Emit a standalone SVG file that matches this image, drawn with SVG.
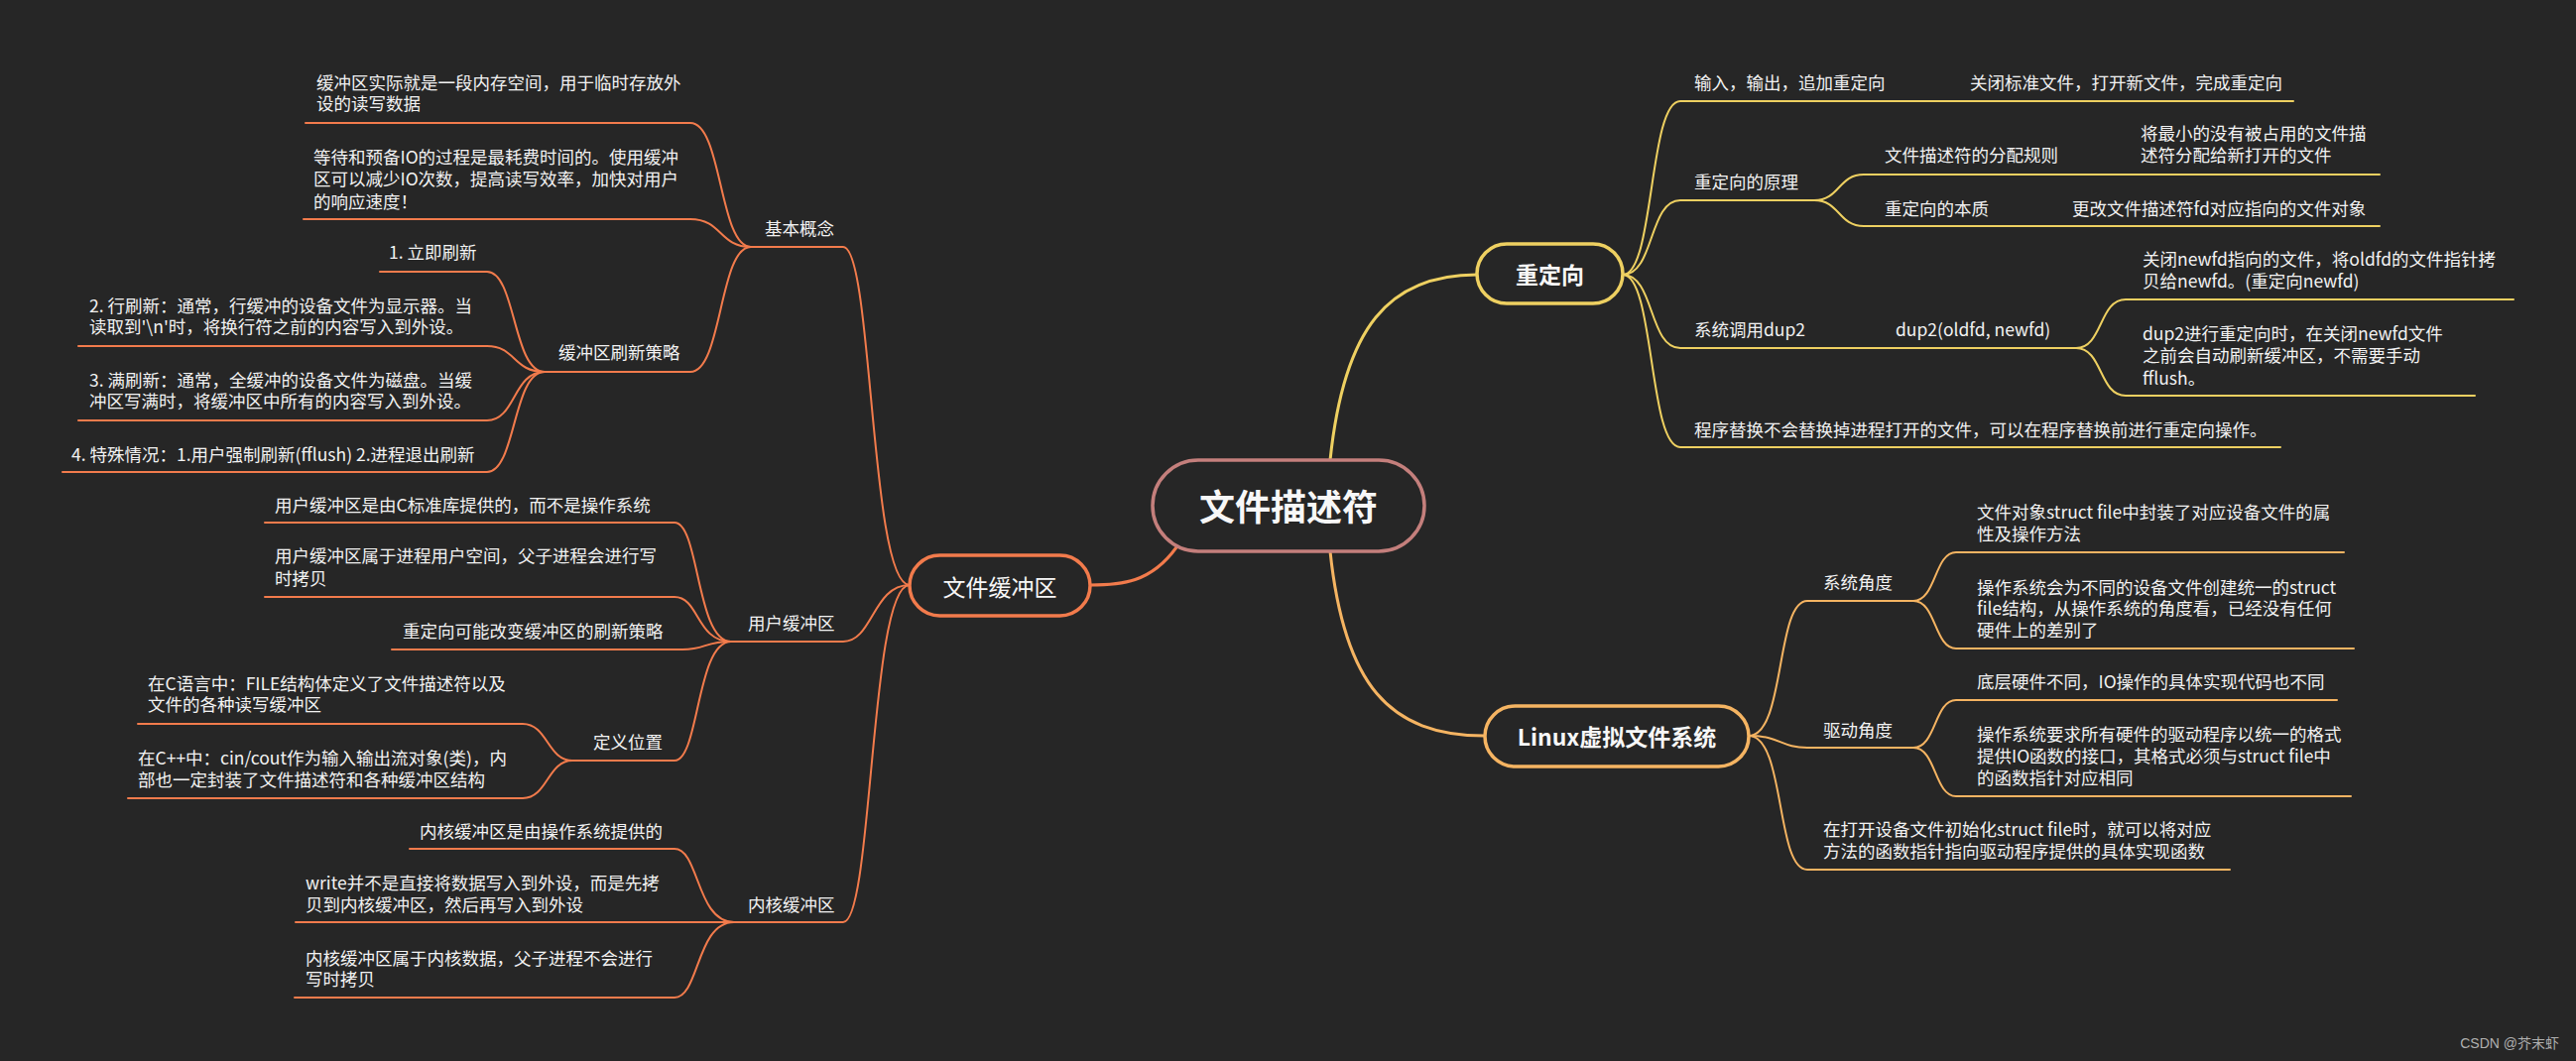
<svg xmlns="http://www.w3.org/2000/svg" width="2597" height="1070" viewBox="0 0 2597 1070">
<style>
.t{font-family:"Noto Sans CJK SC","Noto Sans",sans-serif;font-size:17.5px;fill:#f2f2f2;dominant-baseline:central}
.m{font-family:"Noto Sans CJK SC","Noto Sans",sans-serif;font-size:23px;fill:#f7f7f7;dominant-baseline:central;text-anchor:middle}
.l{fill:none;stroke-width:2;stroke-linecap:round}
.o{stroke:#f27b4c}.y{stroke:#eed061}.a{stroke:#f5b462}
.w3{stroke-width:3}
.nb{fill:#262626;stroke-width:3.5}
</style>
<rect width="2597" height="1070" fill="#262626"/>
<g id="connectors">
<path class="l o w3" d="M1186,552 C1160,588 1130,590 1099,590"/>
<path class="l y w3" d="M1341,464 C1355,330 1400,277 1489,277"/>
<path class="l a w3" d="M1341,556 C1355,690 1400,742 1497,742"/>
<path class="l o" d="M917,590 C877,590 880,249 850,249 H757"/>
<path class="l o" d="M917,590 C880,590 880,647 850,647 H737"/>
<path class="l o" d="M917,590 C877,590 880,930 850,930 H740"/>
<path class="l o" d="M757,249 C725,249 728,124 696,124 H308"/>
<path class="l o" d="M757,249 C725,249 728,221 696,221 H306"/>
<path class="l o" d="M757,249 C725,249 728,375 696,375 H549"/>
<path class="l o" d="M549,375 C517,375 520,274 491,274 H383"/>
<path class="l o" d="M549,375 C517,375 520,349 491,349 H79"/>
<path class="l o" d="M549,375 C517,375 520,424 491,424 H79"/>
<path class="l o" d="M549,375 C517,375 520,476 491,476 H63"/>
<path class="l o" d="M737,647 C702,647 705,527 680,527 H267"/>
<path class="l o" d="M737,647 C702,647 705,602 680,602 H267"/>
<path class="l o" d="M737,647 C710,647 712,655 688,655 H395"/>
<path class="l o" d="M737,647 C702,647 705,767 680,767 H577"/>
<path class="l o" d="M577,767 C552,767 552,730 527,730 H139"/>
<path class="l o" d="M577,767 C552,767 552,805 527,805 H129"/>
<path class="l o" d="M740,930 C702,930 705,856 680,856 H413"/>
<path class="l o" d="M740,930 H298"/>
<path class="l o" d="M740,930 C702,930 705,1006 680,1006 H297"/>
<path class="l y" d="M1636,277 C1668,277 1662,102 1694,102 H2312"/>
<path class="l y" d="M1636,277 C1668,277 1662,202 1694,202 H1829"/>
<path class="l y" d="M1829,202 C1855,202 1853,176 1879,176 H2399"/>
<path class="l y" d="M1829,202 C1855,202 1853,228 1879,228 H2399"/>
<path class="l y" d="M1636,277 C1668,277 1662,351 1694,351 H2093"/>
<path class="l y" d="M2093,351 C2120,351 2116,302 2143,302 H2534"/>
<path class="l y" d="M2093,351 C2120,351 2116,399 2143,399 H2495"/>
<path class="l y" d="M1636,277 C1668,277 1662,451 1694,451 H2299"/>
<path class="l a" d="M1763,742 C1800,742 1790,606 1822,606 H1929"/>
<path class="l a" d="M1929,606 C1952,606 1950,557 1972,557 H2363"/>
<path class="l a" d="M1929,606 C1952,606 1950,654 1972,654 H2373"/>
<path class="l a" d="M1763,742 C1795,742 1795,754 1822,754 H1929"/>
<path class="l a" d="M1929,754 C1952,754 1950,706 1972,706 H2356"/>
<path class="l a" d="M1929,754 C1952,754 1950,803 1972,803 H2370"/>
<path class="l a" d="M1763,742 C1800,742 1790,877 1822,877 H2248"/>
</g>
<g id="root"><rect class="nb" x="1162" y="464" width="274" height="92" rx="46" stroke="#c47f7c"/><text class="m" x="1299" y="509" style="font-size:36px;font-weight:bold">文件描述符</text></g>
<g id="n-buffer"><rect class="nb" x="917" y="560" width="182" height="61" rx="30.5" stroke="#f27b4c"/><text class="m" x="1008" y="590.5">文件缓冲区</text></g>
<g id="n-redirect"><rect class="nb" x="1489" y="246" width="147" height="60" rx="30" stroke="#eed061"/><text class="m" x="1562.5" y="276" style="font-weight:bold">重定向</text></g>
<g id="n-vfs"><rect class="nb" x="1497" y="712" width="266" height="61" rx="30.5" stroke="#f5b462"/><text class="m" x="1630" y="742" style="font-weight:bold">Linux虚拟文件系统</text></g>
<g id="n-basic"><text class="t" x="771" y="229">基本概念</text></g>
<g id="n-basic-1"><text class="t" x="319" y="82">缓冲区实际就是一段内存空间，用于临时存放外</text><text class="t" x="319" y="103">设的读写数据</text></g>
<g id="n-basic-2"><text class="t" x="316" y="157">等待和预备IO的过程是最耗费时间的。使用缓冲</text><text class="t" x="316" y="179.5">区可以减少IO次数，提高读写效率，加快对用户</text><text class="t" x="316" y="202">的响应速度！</text></g>
<g id="n-flush"><text class="t" x="563" y="354">缓冲区刷新策略</text></g>
<g id="n-flush-1"><text class="t" x="392" y="253">1. 立即刷新</text></g>
<g id="n-flush-2"><text class="t" x="90" y="307">2. 行刷新：通常，行缓冲的设备文件为显示器。当</text><text class="t" x="90" y="328.5">读取到'\n'时，将换行符之前的内容写入到外设。</text></g>
<g id="n-flush-3"><text class="t" x="90" y="382">3. 满刷新：通常，全缓冲的设备文件为磁盘。当缓</text><text class="t" x="90" y="403.5">冲区写满时，将缓冲区中所有的内容写入到外设。</text></g>
<g id="n-flush-4"><text class="t" x="72" y="457">4. 特殊情况：1.用户强制刷新(fflush) 2.进程退出刷新</text></g>
<g id="n-user"><text class="t" x="754" y="627">用户缓冲区</text></g>
<g id="n-user-1"><text class="t" x="277" y="508">用户缓冲区是由C标准库提供的，而不是操作系统</text></g>
<g id="n-user-2"><text class="t" x="277" y="559">用户缓冲区属于进程用户空间，父子进程会进行写</text><text class="t" x="277" y="582">时拷贝</text></g>
<g id="n-user-3"><text class="t" x="406" y="635">重定向可能改变缓冲区的刷新策略</text></g>
<g id="n-def"><text class="t" x="598" y="747">定义位置</text></g>
<g id="n-def-1"><text class="t" x="149" y="688">在C语言中：FILE结构体定义了文件描述符以及</text><text class="t" x="149" y="709.5">文件的各种读写缓冲区</text></g>
<g id="n-def-2"><text class="t" x="139" y="763">在C++中：cin/cout作为输入输出流对象(类)，内</text><text class="t" x="139" y="785">部也一定封装了文件描述符和各种缓冲区结构</text></g>
<g id="n-kernel"><text class="t" x="754" y="911">内核缓冲区</text></g>
<g id="n-kernel-1"><text class="t" x="423" y="837">内核缓冲区是由操作系统提供的</text></g>
<g id="n-kernel-2"><text class="t" x="308" y="889">write并不是直接将数据写入到外设，而是先拷</text><text class="t" x="308" y="911">贝到内核缓冲区，然后再写入到外设</text></g>
<g id="n-kernel-3"><text class="t" x="308" y="965">内核缓冲区属于内核数据，父子进程不会进行</text><text class="t" x="308" y="986.5">写时拷贝</text></g>
<g id="n-r1"><text class="t" x="1708" y="82">输入，输出，追加重定向</text></g>
<g id="n-r1-1"><text class="t" x="1986" y="82">关闭标准文件，打开新文件，完成重定向</text></g>
<g id="n-r2"><text class="t" x="1708" y="182">重定向的原理</text></g>
<g id="n-r2-1"><text class="t" x="1900" y="155">文件描述符的分配规则</text></g>
<g id="n-r2-1-1"><text class="t" x="2158" y="133">将最小的没有被占用的文件描</text><text class="t" x="2158" y="155">述符分配给新打开的文件</text></g>
<g id="n-r2-2"><text class="t" x="1900" y="209">重定向的本质</text></g>
<g id="n-r2-2-1"><text class="t" x="2089" y="209">更改文件描述符fd对应指向的文件对象</text></g>
<g id="n-r3"><text class="t" x="1708" y="331">系统调用dup2</text></g>
<g id="n-r3-1"><text class="t" x="1911" y="331">dup2(oldfd, newfd)</text></g>
<g id="n-r3-1-1"><text class="t" x="2160" y="260">关闭newfd指向的文件，将oldfd的文件指针拷</text><text class="t" x="2160" y="282">贝给newfd。(重定向newfd)</text></g>
<g id="n-r3-1-2"><text class="t" x="2160" y="335">dup2进行重定向时，在关闭newfd文件</text><text class="t" x="2160" y="357">之前会自动刷新缓冲区，不需要手动</text><text class="t" x="2160" y="380">fflush。</text></g>
<g id="n-r4"><text class="t" x="1708" y="432">程序替换不会替换掉进程打开的文件，可以在程序替换前进行重定向操作。</text></g>
<g id="n-v1"><text class="t" x="1838" y="586">系统角度</text></g>
<g id="n-v1-1"><text class="t" x="1993" y="515">文件对象struct file中封装了对应设备文件的属</text><text class="t" x="1993" y="537">性及操作方法</text></g>
<g id="n-v1-2"><text class="t" x="1993" y="591">操作系统会为不同的设备文件创建统一的struct</text><text class="t" x="1993" y="612.5">file结构，从操作系统的角度看，已经没有任何</text><text class="t" x="1993" y="634">硬件上的差别了</text></g>
<g id="n-v2"><text class="t" x="1838" y="735">驱动角度</text></g>
<g id="n-v2-1"><text class="t" x="1993" y="686">底层硬件不同，IO操作的具体实现代码也不同</text></g>
<g id="n-v2-2"><text class="t" x="1993" y="739">操作系统要求所有硬件的驱动程序以统一的格式</text><text class="t" x="1993" y="761">提供IO函数的接口，其格式必须与struct file中</text><text class="t" x="1993" y="783">的函数指针对应相同</text></g>
<g id="n-v3"><text class="t" x="1838" y="835">在打开设备文件初始化struct file时，就可以将对应</text><text class="t" x="1838" y="857">方法的函数指针指向驱动程序提供的具体实现函数</text></g>
<text x="2580" y="1052" style="font-family:'Liberation Sans','Noto Sans CJK SC',sans-serif;font-size:14px;fill:#b0b0b0;text-anchor:end;dominant-baseline:central">CSDN @芥末虾</text>
</svg>
